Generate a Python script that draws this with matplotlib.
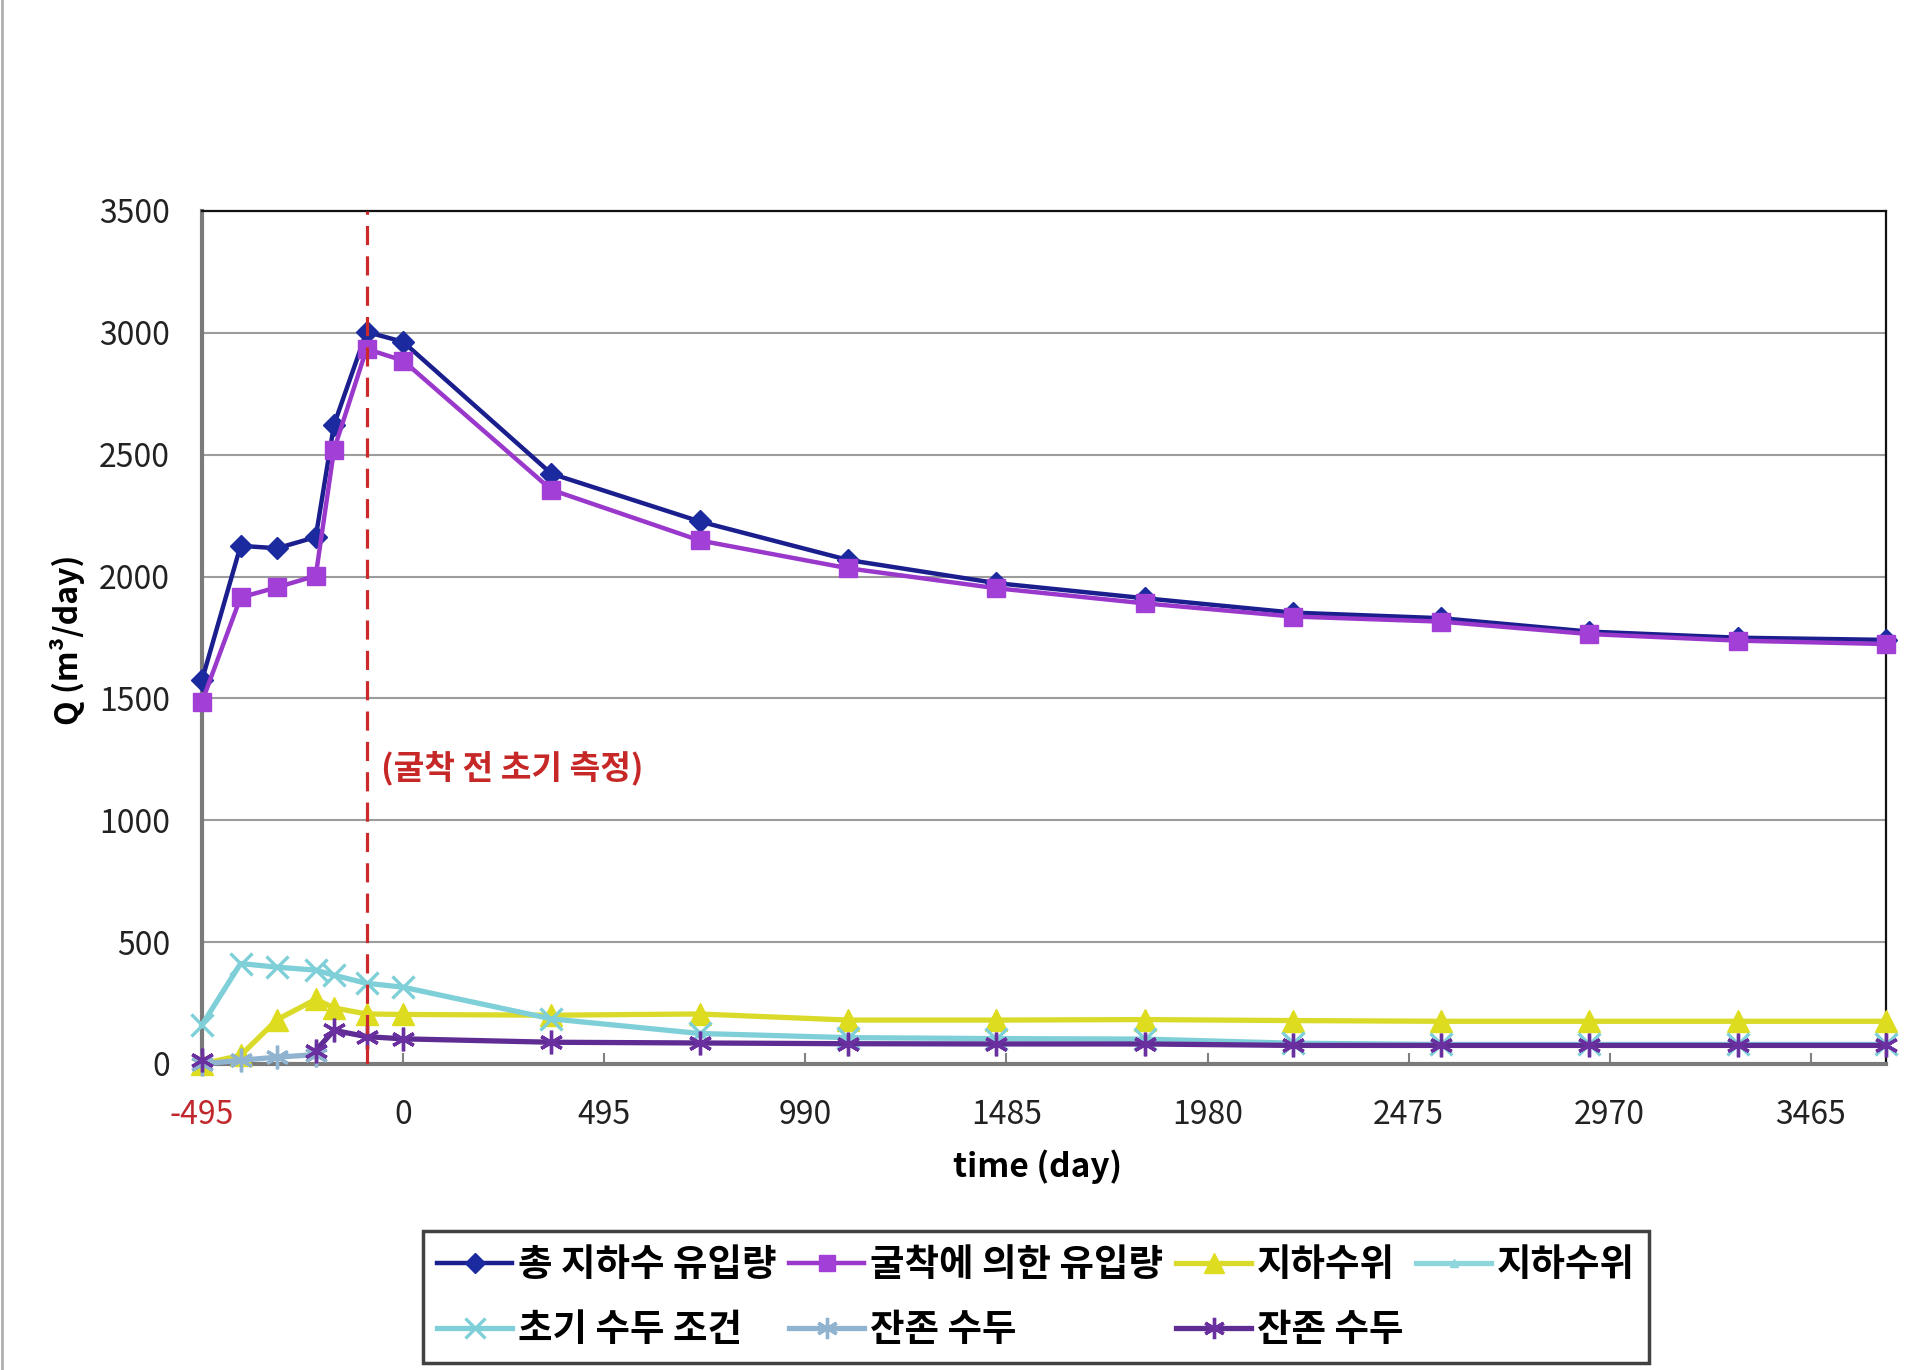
import numpy as np
import matplotlib
matplotlib.use("Agg")
import matplotlib.pyplot as plt
from matplotlib.lines import Line2D

plt.rcParams['font.family'] = ['Noto Sans CJK KR', 'DejaVu Sans']

# ---------------- data ----------------
days = [-495, -400, -310, -215, -170, -90, 0, 365, 730, 1095, 1460, 1825, 2190, 2555, 2920, 3285, 3650]
total_inflow = [1575, 2126, 2116, 2162, 2623, 3004, 2963, 2422, 2226, 2068, 1973, 1911, 1852, 1829, 1774, 1749, 1740]
excav_inflow = [1486, 1914, 1956, 2003, 2521, 2934, 2886, 2356, 2148, 2034, 1952, 1890, 1836, 1815, 1764, 1737, 1723]
gw_level = [0, 35, 182, 265, 230, 205, 203, 200, 205, 180, 180, 182, 178, 175, 175, 175, 175]
gw_level2 = []  # legend-only series (not visible in the chart)
init_head = [160, 412, 397, 385, 364, 331, 315, 185, 125, 108, 104, 102, 85, 80, 80, 80, 80]
resid_head_light = [0, 15, 28, 38, np.nan, np.nan, np.nan, np.nan, np.nan, np.nan, np.nan,
                    np.nan, np.nan, np.nan, np.nan, np.nan, np.nan]
resid_head = [15, np.nan, np.nan, 55, 138, 112, 103, 89, 86, 83, 82, 82, 76, 76, 76, 76, 76]

labels = ['총 지하수 유입량', '굴착에 의한 유입량', '지하수위', '지하수위',
          '초기 수두 조건', '잔존 수두', '잔존 수두']
xticks = [-495, 0, 495, 990, 1485, 1980, 2475, 2970, 3465]
yticks = [0, 500, 1000, 1500, 2000, 2500, 3000, 3500]
marker_day = -90
annot_text = '(굴착 전 초기 측정)'
annot_y = 1215

# ---------------- figure ----------------
fig = plt.figure(figsize=(19.2, 13.7), dpi=100)
ax = fig.add_axes([0.1052, 0.2234, 0.8771, 0.6226])

asterisk = (6, 2, 0)

h0, = ax.plot(days, total_inflow, color='#1B1F8E', lw=3.2, marker='D', ms=11,
              mfc='#1B2A9E', mec='#1B2A9E', clip_on=False, zorder=5)
h1, = ax.plot(days, excav_inflow, color='#9A38CC', lw=3.2, marker='s', ms=13,
              mfc='#A23FD6', mec='#A23FD6', clip_on=False, zorder=6)
h2, = ax.plot(days, gw_level, color='#DADA2A', lw=3.8, marker='^', ms=16,
              mfc='#DEDC1E', mec='#DEDC1E', clip_on=False, zorder=7)
h3, = ax.plot(days[:len(gw_level2)], gw_level2, color='#8ED6DC', lw=3.8, marker='^', ms=7,
              mfc='#8ED6DC', mec='#8ED6DC', clip_on=False, zorder=7)
h4, = ax.plot(days, init_head, color='#7FCFD8', lw=3.8, marker='x', ms=16, mew=2.4,
              mec='#7FCFD8', clip_on=False, zorder=8)
h5, = ax.plot(days, resid_head_light, color='#90B4CF', lw=3.8, marker=asterisk, ms=17, mew=2.4,
              mec='#90B4CF', clip_on=False, zorder=8)
h6, = ax.plot(days, resid_head, color='#5E2C92', lw=3.8, marker=asterisk, ms=17, mew=2.4,
              mec='#6A30A0', clip_on=False, zorder=9)

# vertical dashed marker line
ax.axvline(marker_day, color='#CC2A2A', lw=2.3, ls=(0, (6, 3.5)), zorder=10)
ax.text(marker_day + 35, annot_y, annot_text, color='#C62828', fontsize=24,
        fontweight='bold', ha='left', va='center', zorder=11)

# axes
ax.set_xlim(-495, 3650)
ax.set_ylim(0, 3500)
ax.set_xticks(xticks)
ax.set_yticks(yticks)
ax.set_xticklabels([str(t) for t in xticks])
ax.tick_params(axis='x', direction='in', length=8, width=1.5, color='#808080',
               labelsize=23, pad=25, labelcolor='#222222')
ax.get_xticklabels()[0].set_color('#C0282D')
ax.tick_params(axis='y', length=0, labelsize=23, pad=23, labelcolor='#222222')

ax.grid(axis='y', color='#9C9C9C', lw=1.5)
ax.set_axisbelow(True)
for s in ['left', 'bottom']:
    ax.spines[s].set_color('#7A7A7A')
    ax.spines[s].set_linewidth(3)
for s in ['top', 'right']:
    ax.spines[s].set_color('#111111')
    ax.spines[s].set_linewidth(1.6)

ax.set_xlabel('time (day)', fontsize=24, fontweight='bold', va='center')
ax.xaxis.set_label_coords(0.496, -0.12)
ax.set_ylabel('Q (m³/day)', fontsize=23, fontweight='bold', va='center')
ax.yaxis.set_label_coords(-0.080, 0.497)

# legend (row-major order over 4 columns)
handles = [h0, h1, h2, h3, h4, h5, h6]
order = [0, 4, 1, 5, 2, 6, 3]
leg = fig.legend([handles[i] for i in order], [labels[i] for i in order],
                 loc='center', bbox_to_anchor=(0.5396, 0.0533), ncol=4,
                 prop={'size': 27, 'weight': 'bold'}, frameon=True, fancybox=False,
                 handlelength=2.0, handletextpad=0.15, columnspacing=0.35,
                 labelspacing=0.68, borderpad=0.38, markerscale=0.9)
leg.get_frame().set_edgecolor('#111111')
leg.get_frame().set_linewidth(2.5)

# thin border line on the left edge of the image
fig.add_artist(Line2D([0.001, 0.001], [0, 1], transform=fig.transFigure,
                      color='#B0B0B0', lw=2))

fig.savefig('out.png', dpi=100, facecolor='white')
